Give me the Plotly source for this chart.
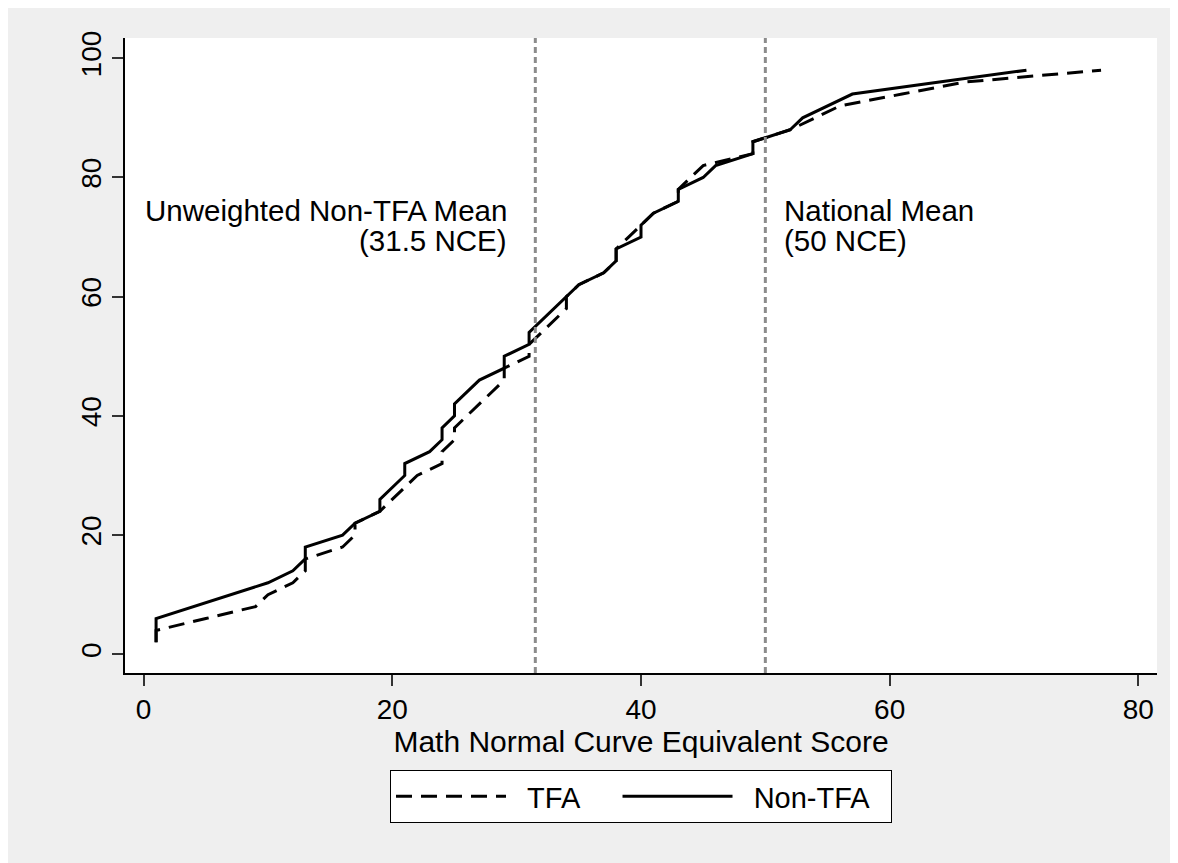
import plotly.graph_objects as go

# Percentile (y) vs Math NCE score (x)
tfa_score = [1, 1, 5, 9, 10, 12, 13, 13, 16, 17, 17, 19, 21, 22, 24, 24, 25, 25, 29, 29, 31, 31,
             34, 34, 35, 37, 38, 38, 39, 40, 41, 43, 43, 44, 45, 49, 49, 52, 56, 61, 66, 77]
tfa_pct = [2, 4, 6, 8, 10, 12, 14, 16, 18, 20, 22, 24, 28, 30, 32, 34, 36, 38, 46, 48, 50, 52,
           58, 60, 62, 64, 66, 68, 70, 72, 74, 76, 78, 80, 82, 84, 86, 88, 92, 94, 96, 98]

non_score = [1, 1, 10, 12, 13, 13, 16, 17, 19, 19, 21, 21, 23, 24, 24, 25, 25, 27, 29, 29, 31, 31,
             35, 37, 38, 38, 40, 40, 41, 43, 43, 45, 46, 49, 49, 52, 53, 57, 64, 71]
non_pct = [2, 6, 12, 14, 16, 18, 20, 22, 24, 26, 30, 32, 34, 36, 38, 40, 42, 46, 48, 50, 52, 54,
           62, 64, 66, 68, 70, 72, 74, 76, 78, 80, 82, 84, 86, 88, 90, 94, 96, 98]

ref_lines = [31.5, 50]
x_ticks = [0, 20, 40, 60, 80]
y_ticks = [0, 20, 40, 60, 80, 100]

FONT = "Liberation Sans, Arial, sans-serif"
W, H = 1178, 863
ML, MR, MT, MB = 117, 29, 30, 198
PH = H - MT - MB
NB = "\u00a0"


def px2paper_y(py):
    return (H - MB - py) / PH


fig = go.Figure()
fig.add_trace(go.Scatter(x=tfa_score, y=tfa_pct, mode="lines", name=NB * 2 + "TFA" + NB * 4,
                         line=dict(color="black", width=3, dash="16px,9px")))
fig.add_trace(go.Scatter(x=non_score, y=non_pct, mode="lines", name=NB * 2 + "Non-TFA" + NB * 2,
                         line=dict(color="black", width=3)))

shapes = []
for v in ref_lines:
    shapes.append(dict(type="line", xref="x", yref="paper", x0=v, x1=v, y0=0, y1=1,
                       line=dict(color="#8c8c8c", width=3, dash="6px,4px"), layer="above"))

ann_font = dict(family=FONT, size=29.5, color="black")
annotations = [
    dict(x=29.35, y=74.5, xref="x", yref="y", text="Unweighted Non-TFA Mean", showarrow=False,
         xanchor="right", yanchor="middle", font=ann_font),
    dict(x=29.35, y=69.5, xref="x", yref="y", text="(31.5 NCE)", showarrow=False,
         xanchor="right", yanchor="middle", font=ann_font),
    dict(x=51.35, y=74.5, xref="x", yref="y", text="National Mean", showarrow=False,
         xanchor="left", yanchor="middle", font=ann_font),
    dict(x=51.35, y=69.5, xref="x", yref="y", text="(50 NCE)", showarrow=False,
         xanchor="left", yanchor="middle", font=ann_font),
]

fig.update_layout(
    width=W, height=H,
    margin=dict(l=ML, r=MR, t=MT, b=MB),
    paper_bgcolor="#efefef",
    plot_bgcolor="white",
    font=dict(family=FONT, size=28, color="black"),
    shapes=shapes,
    annotations=annotations,
    showlegend=True,
    legend=dict(orientation="h", x=0.5, xanchor="center", y=px2paper_y(762), yanchor="top",
                bgcolor="white", bordercolor="black", borderwidth=1,
                font=dict(family=FONT, size=29, color="black"),
                itemwidth=110, traceorder="normal"),
    xaxis=dict(range=[-1.5, 81.5], tickvals=x_ticks, ticks="outside", ticklen=11,
               tickcolor="#333333", tickwidth=1.5, showline=True, linecolor="black", linewidth=1.5,
               showgrid=False, zeroline=False, mirror=False,
               title=dict(text="Math Normal Curve Equivalent Score", standoff=4,
                          font=dict(family=FONT, size=30)),
               tickfont=dict(family=FONT, size=28)),
    yaxis=dict(range=[-3.14, 103.4], tickvals=y_ticks, ticks="outside", ticklen=11,
               tickcolor="#333333", tickwidth=1.5, showline=True, linecolor="black", linewidth=1.5,
               showgrid=False, zeroline=False, tickangle=-90,
               tickfont=dict(family=FONT, size=28)),
)

fig.write_html("out.html")
